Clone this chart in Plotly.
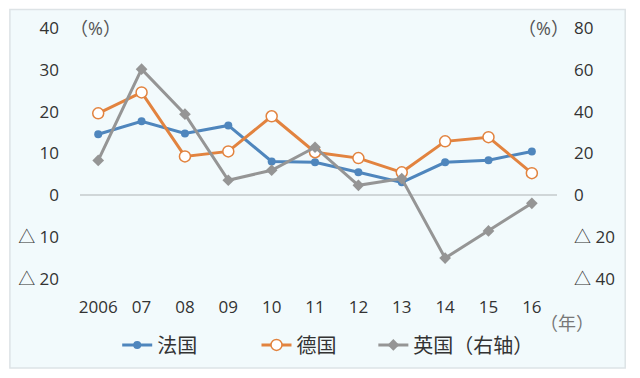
import plotly.graph_objects as go

years = ["2006", "07", "08", "09", "10", "11", "12", "13", "14", "15", "16"]
france = [14.6, 17.7, 14.8, 16.7, 8.1, 7.9, 5.5, 3.1, 7.9, 8.4, 10.5]
germany = [19.6, 24.6, 9.3, 10.5, 18.9, 10.3, 8.9, 5.5, 12.9, 13.9, 5.3]
uk = [16.7, 60.3, 38.8, 7.2, 12.0, 23.0, 4.8, 8.0, -30.0, -17.0, -3.8]

left_ticks = [40, 30, 20, 10, 0, -10, -20]
left_labels = ["40", "30", "20", "10", "0", "△ 10", "△ 20"]
right_ticks = [80, 60, 40, 20, 0, -20, -40]
right_labels = ["80", "60", "40", "20", "0", "△ 20", "△ 40"]

xi = list(range(len(years)))
FONT = "Open Sans, Noto Sans CJK SC, sans-serif"
TXT = "#333333"

fig = go.Figure()
fig.add_trace(go.Scatter(x=xi, y=france, name="法国", mode="lines+markers", legend="legend",
                         line=dict(color="#4f86bd", width=3),
                         marker=dict(symbol="circle", size=8, color="#4f86bd")))
fig.add_trace(go.Scatter(x=xi, y=germany, name="德国", mode="lines+markers", legend="legend2",
                         line=dict(color="#e2833f", width=3),
                         marker=dict(symbol="circle", size=11, color="white",
                                     line=dict(color="#e2833f", width=1.5))))
fig.add_trace(go.Scatter(x=xi, y=uk, name="英国（右轴）", mode="lines+markers", yaxis="y2",
                         legend="legend3",
                         line=dict(color="#959595", width=3),
                         marker=dict(symbol="diamond", size=9, color="#959595")))

leg = dict(orientation="h", xanchor="left", y=-0.185, yanchor="top",
           font=dict(size=20, color=TXT), bgcolor="rgba(0,0,0,0)")

fig.update_layout(
    width=632, height=370,
    margin=dict(l=72, r=83, t=20, b=99, autoexpand=False),
    paper_bgcolor="white",
    plot_bgcolor="rgba(0,0,0,0)",
    font=dict(family=FONT, size=17, color=TXT),
    showlegend=True,
    legend=dict(leg, x=0.078),
    legend2=dict(leg, x=0.37),
    legend3=dict(leg, x=0.615),
    xaxis=dict(tickmode="array", tickvals=xi, ticktext=years, range=[-0.42, 10.58],
               showgrid=False, zeroline=False, showline=False, ticks="", automargin=False,
               ticklabelstandoff=16, tickfont=dict(size=17, color=TXT)),
    yaxis=dict(range=[-20, 40], tickmode="array", tickvals=left_ticks, ticktext=left_labels,
               showgrid=False, zeroline=True, zerolinecolor="#d0d6d8", zerolinewidth=1.5,
               showline=False, ticks="", ticklabelstandoff=20, automargin=False,
               tickfont=dict(size=17, color=TXT)),
    yaxis2=dict(range=[-40, 80], overlaying="y", side="right", tickmode="array",
                tickvals=right_ticks, ticktext=right_labels, showgrid=False,
                zeroline=False, showline=False, ticks="", ticklabelstandoff=16,
                automargin=False, tickfont=dict(size=17, color=TXT)),
    shapes=[dict(type="rect", xref="paper", yref="paper",
                 x0=-0.147, x1=1.143, y0=-0.355, y1=1.074,
                 fillcolor="#f2fafc", line=dict(color="#dde3e6", width=1.5),
                 layer="below")],
    annotations=[
        dict(text="（%）", xref="paper", yref="paper", x=-0.025, y=1.0, xanchor="left",
             yanchor="middle", showarrow=False, font=dict(size=18, color="#555555")),
        dict(text="（%）", xref="paper", yref="paper", x=1.03, y=1.0, xanchor="right",
             yanchor="middle", showarrow=False, font=dict(size=18, color="#555555")),
        dict(text="（年）", xref="paper", yref="paper", x=0.96, y=-0.175, xanchor="left",
             yanchor="middle", showarrow=False, font=dict(size=18, color="#777777")),
    ],
)

fig.write_html("out.html")
